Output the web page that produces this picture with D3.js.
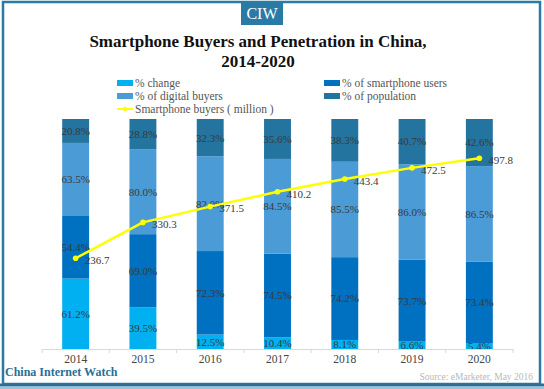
<!DOCTYPE html>
<html>
<head>
<meta charset="utf-8">
<script src="https://cdn.jsdelivr.net/npm/d3@7"></script>
<style>
  body { margin: 0; background: #fff; }
  svg { display: block; }
</style>
</head>
<body>
<div id="chart"></div>
<script>
"use strict";

// Data
const years = ["2014", "2015", "2016", "2017", "2018", "2019", "2020"];
const pctChange = [61.2, 39.5, 12.5, 10.4, 8.1, 6.6, 5.4];
const pctSmartphoneUsers = [54.4, 69.0, 72.3, 74.5, 74.2, 73.7, 73.4];
const pctDigitalBuyers = [63.5, 80.0, 82.0, 84.5, 85.5, 86.0, 86.5];
const pctPopulation = [20.8, 28.8, 32.3, 35.6, 38.3, 40.7, 42.6];
const smartphoneBuyers = [236.7, 330.3, 371.5, 410.2, 443.4, 472.5, 497.8];

const seriesKeys = ["change", "users", "digital", "population"];
const seriesNames = {
    change: "% change",
    users: "% of smartphone users",
    digital: "% of digital buyers",
    population: "% of population"
};
const seriesColors = {
    change: "#00b0f0",
    users: "#0070c0",
    digital: "#4a9bd6",
    population: "#23749f"
};

const W = 544, H = 389;
const serif = "'Liberation Serif', 'Times New Roman', serif";
const margin = { top: 119, bottom: 40, left: 42, right: 31 };

const svg = d3.select("#chart").append("svg")
    .attr("width", W)
    .attr("height", H);

// Frame
svg.append("rect").attr("x", 0).attr("y", 0).attr("width", W).attr("height", H).attr("fill", "#fff");
svg.append("rect")
    .attr("x", 3).attr("y", 2)
    .attr("width", 537).attr("height", 382)
    .attr("fill", "none")
    .attr("stroke", "#2a7aa6")
    .attr("stroke-width", 2.5);
svg.append("line")
    .attr("x1", 0).attr("x2", W).attr("y1", 385).attr("y2", 385)
    .attr("stroke", "#2a6f97").attr("stroke-width", 3);
svg.append("line")
    .attr("x1", 0).attr("x2", W).attr("y1", 388).attr("y2", 388)
    .attr("stroke", "#9cc3da").attr("stroke-width", 2);

// CIW badge
svg.append("rect")
    .attr("x", 241).attr("y", 1)
    .attr("width", 42).attr("height", 24)
    .attr("fill", "#2a7aa6");
svg.append("text")
    .attr("x", 262).attr("y", 19)
    .attr("text-anchor", "middle")
    .attr("font-family", serif)
    .attr("font-size", 16)
    .attr("fill", "#fff")
    .text("CIW");

// Title
const title = svg.append("text")
    .attr("text-anchor", "middle")
    .attr("font-family", serif)
    .attr("font-weight", "bold")
    .attr("font-size", 17)
    .attr("fill", "#111");
title.append("tspan").attr("x", 258).attr("y", 47).text("Smartphone Buyers and Penetration in China,");
title.append("tspan").attr("x", 258).attr("y", 67).text("2014-2020");

// Build the stacked table
const table = years.map((y, i) => ({
    year: y,
    change: pctChange[i],
    users: pctSmartphoneUsers[i],
    digital: pctDigitalBuyers[i],
    population: pctPopulation[i]
}));

const stacked = d3.stack()
    .keys(seriesKeys)
    .offset(d3.stackOffsetExpand)(table);

const xScale = d3.scaleBand()
    .domain(years)
    .range([margin.left, W - margin.right])
    .paddingInner(0.6)
    .paddingOuter(0.3);

const xBand = d3.scaleBand()
    .domain(years)
    .range([margin.left, W - margin.right]);

const yScale = d3.scaleLinear()
    .domain([0, 1])
    .range([H - margin.bottom, margin.top]);

const y2Scale = d3.scaleLinear()
    .domain([0, 600])
    .range([H - margin.bottom, margin.top]);

// Bars
const layer = svg.append("g")
    .selectAll("g")
    .data(stacked)
    .join("g")
    .attr("fill", d => seriesColors[d.key]);

layer.selectAll("rect")
    .data(d => d)
    .join("rect")
    .attr("x", d => xScale(d.data.year))
    .attr("width", xScale.bandwidth())
    .attr("y", d => yScale(d[1]))
    .attr("height", d => yScale(d[0]) - yScale(d[1]));

// Segment labels
svg.append("g")
    .attr("font-family", serif)
    .attr("font-size", 11)
    .attr("fill", "#3a3a3a")
    .attr("text-anchor", "middle")
    .selectAll("g")
    .data(stacked)
    .join("g")
    .selectAll("text")
    .data(d => d.map(s => ({ s: s, key: d.key })))
    .join("text")
    .attr("x", d => xScale(d.s.data.year) + xScale.bandwidth() / 2)
    .attr("y", d => (yScale(d.s[0]) + yScale(d.s[1])) / 2)
    .attr("dy", "0.35em")
    .text(d => d.s.data[d.key].toFixed(1) + "%");

// X axis
const axisG = svg.append("g")
    .attr("transform", `translate(0,${H - margin.bottom})`)
    .call(d3.axisBottom(xBand).tickSize(0).tickPadding(6))
    .call(g => g.select(".domain").attr("stroke", "#d9d9d9"));
axisG.selectAll(".tick text")
    .attr("font-family", serif)
    .attr("font-size", 11.5)
    .attr("fill", "#444");
// tick marks at category boundaries
axisG.append("g")
    .selectAll("line")
    .data(years.concat(["end"]))
    .join("line")
    .attr("x1", (d, i) => margin.left + i * xBand.step())
    .attr("x2", (d, i) => margin.left + i * xBand.step())
    .attr("y1", 0).attr("y2", 4)
    .attr("stroke", "#d9d9d9");

// Line for smartphone buyers
const line = d3.line()
    .x((d, i) => xBand(years[i]) + xBand.bandwidth() / 2)
    .y(d => y2Scale(d));

svg.append("path")
    .datum(smartphoneBuyers)
    .attr("fill", "none")
    .attr("stroke", "#ffff00")
    .attr("stroke-width", 2.5)
    .attr("stroke-linejoin", "round")
    .attr("d", line);

svg.append("g")
    .attr("fill", "#ffff00")
    .selectAll("circle")
    .data(smartphoneBuyers)
    .join("circle")
    .attr("cx", (d, i) => xBand(years[i]) + xBand.bandwidth() / 2)
    .attr("cy", d => y2Scale(d))
    .attr("r", 2.8);

svg.append("g")
    .attr("font-family", serif)
    .attr("font-size", 11)
    .attr("fill", "#3a3a3a")
    .selectAll("text")
    .data(smartphoneBuyers)
    .join("text")
    .attr("x", (d, i) => xBand(years[i]) + xBand.bandwidth() / 2 + 9)
    .attr("y", d => y2Scale(d) + 2)
    .attr("dy", "0.35em")
    .text(d => d.toFixed(1));

// Legend
const legendItems = [
    { key: "change", x: 117, y: 83 },
    { key: "users", x: 324, y: 83 },
    { key: "digital", x: 117, y: 96 },
    { key: "population", x: 324, y: 96 }
];
const legend = svg.append("g")
    .attr("font-family", serif)
    .attr("font-size", 11.5)
    .attr("fill", "#555");
legendItems.forEach(item => {
    legend.append("rect")
        .attr("x", item.x).attr("y", item.y - 3)
        .attr("width", 16).attr("height", 6)
        .attr("fill", seriesColors[item.key]);
    legend.append("text")
        .attr("x", item.x + 18).attr("y", item.y)
        .attr("dy", "0.35em")
        .text(seriesNames[item.key]);
});
legend.append("line")
    .attr("x1", 117).attr("x2", 133).attr("y1", 109).attr("y2", 109)
    .attr("stroke", "#ffff00").attr("stroke-width", 2);
legend.append("circle")
    .attr("cx", 125).attr("cy", 109).attr("r", 2.2)
    .attr("fill", "#ffff00");
legend.append("text")
    .attr("x", 135).attr("y", 109)
    .attr("dy", "0.35em")
    .text("Smartphone buyers ( million )");

// Footer
svg.append("text")
    .attr("x", 5).attr("y", 376)
    .attr("font-family", serif)
    .attr("font-weight", "bold")
    .attr("font-size", 12)
    .attr("fill", "#2a6f97")
    .text("China Internet Watch");

svg.append("text")
    .attr("x", 533).attr("y", 380)
    .attr("text-anchor", "end")
    .attr("font-family", serif)
    .attr("font-size", 9.5)
    .attr("fill", "#b8b8b8")
    .text("Source: eMarketer, May 2016");
</script>
</body>
</html>
